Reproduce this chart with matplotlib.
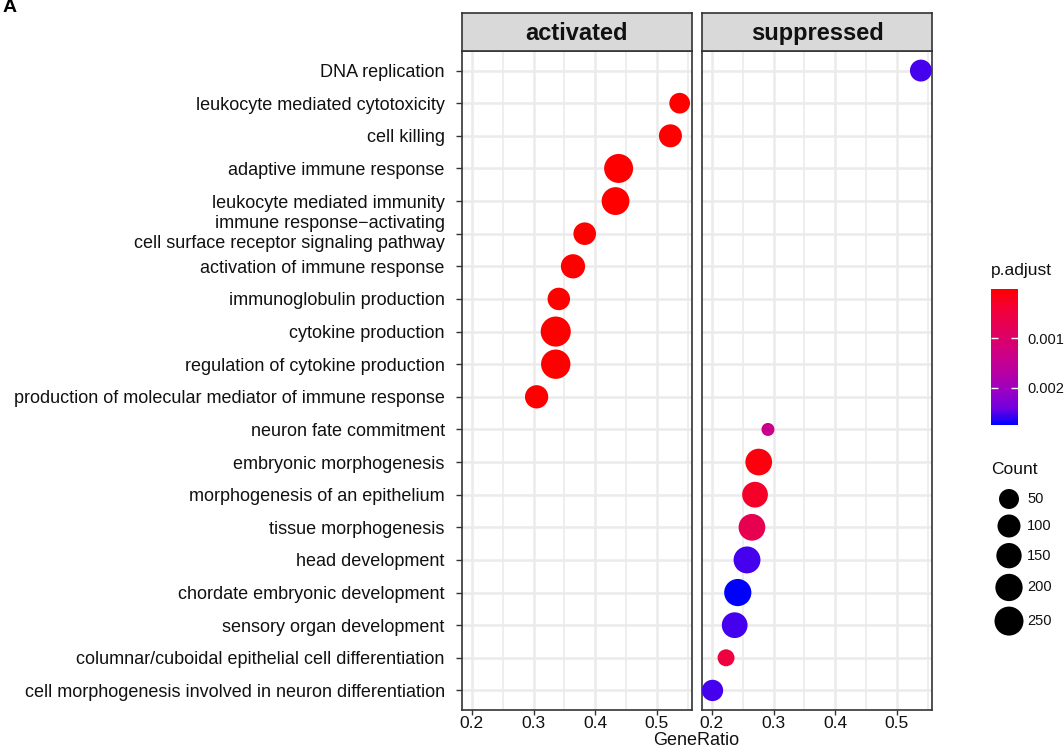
import numpy as np
import matplotlib
matplotlib.use("Agg")
import matplotlib.pyplot as plt
from matplotlib.colors import LinearSegmentedColormap, Normalize

plt.rcParams['font.family'] = ['Liberation Sans', 'DejaVu Sans']

# GO terms, top to bottom
terms = [
    "DNA replication",
    "leukocyte mediated cytotoxicity",
    "cell killing",
    "adaptive immune response",
    "leukocyte mediated immunity",
    "immune response\u2212activating\ncell surface receptor signaling pathway",
    "activation of immune response",
    "immunoglobulin production",
    "cytokine production",
    "regulation of cytokine production",
    "production of molecular mediator of immune response",
    "neuron fate commitment",
    "embryonic morphogenesis",
    "morphogenesis of an epithelium",
    "tissue morphogenesis",
    "head development",
    "chordate embryonic development",
    "sensory organ development",
    "columnar/cuboidal epithelial cell differentiation",
    "cell morphogenesis involved in neuron differentiation",
]

# activated panel
act_terms = terms[1:11]
act_ratio = [0.537, 0.522, 0.438, 0.433, 0.383, 0.364, 0.341, 0.336, 0.336, 0.305]
act_count = [60, 100, 250, 215, 92, 125, 90, 285, 262, 105]
act_padj = [2e-6, 3e-6, 1e-6, 1e-6, 4e-6, 3e-6, 5e-6, 1e-6, 1e-6, 2e-6]

# suppressed panel
sup_terms = [terms[0]] + terms[11:]
sup_ratio = [0.539, 0.291, 0.276, 0.270, 0.265, 0.257, 0.242, 0.237, 0.223, 0.201]
sup_count = [80, 3, 185, 160, 185, 190, 198, 160, 18, 70]
sup_padj = [0.00255, 0.0014, 0.0001, 0.0003, 0.0007, 0.00255, 0.00276, 0.00255, 0.0005, 0.00255]

size_breaks = [50, 100, 150, 200, 250]
cbar_ticks = [0.001, 0.002]

W, H = 1064, 749
fig = plt.figure(figsize=(W / 100, H / 100), dpi=100)


def fx(px):
    return px / W


def fy(py):
    return 1 - py / H


def diam(c):
    c = np.asarray(c, dtype=float)
    return 13 + 1.017 * np.sqrt(np.clip(c - 3, 0, None))


def area(c):
    return (diam(c) * 0.72) ** 2


cmap = LinearSegmentedColormap.from_list("padj", [
    (0.0, "#FF0000"), (0.125, "#F40031"), (0.25, "#E80050"), (0.375, "#DA006C"),
    (0.5, "#CA0089"), (0.625, "#B500A5"), (0.75, "#9A00C3"), (0.875, "#7300E0"),
    (1.0, "#0000FF")])
allp = act_padj + sup_padj
norm = Normalize(vmin=min(allp), vmax=max(allp))

ypos = {t: i for i, t in enumerate(terms)}
border = "#333333"
txt = "#111111"

panels = [("activated", act_terms, act_ratio, act_count, act_padj, 462),
          ("suppressed", sup_terms, sup_ratio, sup_count, sup_padj, 702)]

for k, (name, tt, xr, cnt, pa, left) in enumerate(panels):
    ax = fig.add_axes([fx(left), fy(710), fx(230), 659 / H])
    ax.set_xlim(0.184, 0.557)
    ax.set_ylim(len(terms) - 0.4, -0.6)
    ax.set_xticks([0.2, 0.3, 0.4, 0.5])
    ax.set_xticklabels(["0.2", "0.3", "0.4", "0.5"])
    ax.set_xticks([0.25, 0.35, 0.45, 0.55], minor=True)
    ax.set_yticks(range(len(terms)))
    ax.tick_params(which="major", length=3.5, width=1, color=border)
    ax.tick_params(which="minor", length=0)
    ax.tick_params(axis="x", labelsize=12.5, labelcolor=txt, pad=1)
    if k == 0:
        ax.set_yticklabels(terms, fontsize=13, color=txt, linespacing=1.25)
        ax.tick_params(axis="y", length=4.5, pad=8)
        for lab in ax.get_yticklabels():
            if "\n" in lab.get_text():
                lab.set_va("center")
    else:
        ax.set_yticklabels([])
        ax.tick_params(axis="y", length=0)
    ax.grid(which="major", color="#EBEBEB", linewidth=1.8)
    ax.grid(which="minor", axis="x", color="#EBEBEB", linewidth=1.2)
    ax.set_axisbelow(True)
    for s in ax.spines.values():
        s.set_color(border)
        s.set_linewidth(1.2)
    ax.scatter(xr, [ypos[t] for t in tt], s=area(cnt), c=pa, cmap=cmap, norm=norm,
               linewidths=0, zorder=3)

    sax = fig.add_axes([fx(left), fy(51), fx(230), 38 / H])
    sax.set_facecolor("#D9D9D9")
    sax.set_xticks([])
    sax.set_yticks([])
    for s in sax.spines.values():
        s.set_color(border)
        s.set_linewidth(1.2)
    sax.text(0.5, 0.45, name, ha="center", va="center", fontsize=17,
             fontweight="bold", color=txt, transform=sax.transAxes)

fig.text(fx(696), fy(745), "GeneRatio", ha="center", va="baseline", fontsize=13,
         color=txt)
fig.text(fx(3), fy(7), "A", ha="left", va="center", fontsize=14, fontweight="bold")

# colour bar
fig.text(fx(991), fy(271), "p.adjust", ha="left", va="center", fontsize=12.5,
         color=txt)
cax = fig.add_axes([fx(991), fy(425), fx(27), 136 / H])
sm = plt.cm.ScalarMappable(norm=norm, cmap=cmap)
cb = fig.colorbar(sm, cax=cax, ticks=cbar_ticks)
cb.outline.set_visible(False)
cax.invert_yaxis()
cax.set_yticklabels(["0.001", "0.002"])
cax.tick_params(axis="y", direction="in", length=5, width=1, color="white",
                left=True, right=True, labelsize=10.5, labelcolor=txt, pad=7)

# size legend
fig.text(fx(991), fy(470), "Count", ha="left", va="center", fontsize=12.5,
         color=txt)
kax = fig.add_axes([fx(985), fy(640), fx(79), 155 / H])
kax.set_xlim(0, 79)
kax.set_ylim(155, 0)
kax.axis("off")
d = diam(size_breaks)
ky = [14.0]
for i in range(1, len(size_breaks)):
    ky.append(ky[-1] + (d[i - 1] + d[i]) / 2 + 5.5)
kax.scatter([24] * len(size_breaks), ky, s=area(size_breaks), c="black",
            linewidths=0, clip_on=False)
for yv, b in zip(ky, size_breaks):
    kax.text(42, yv, str(b), ha="left", va="center", fontsize=10.5, color=txt)

fig.savefig("out.png", dpi=100)
